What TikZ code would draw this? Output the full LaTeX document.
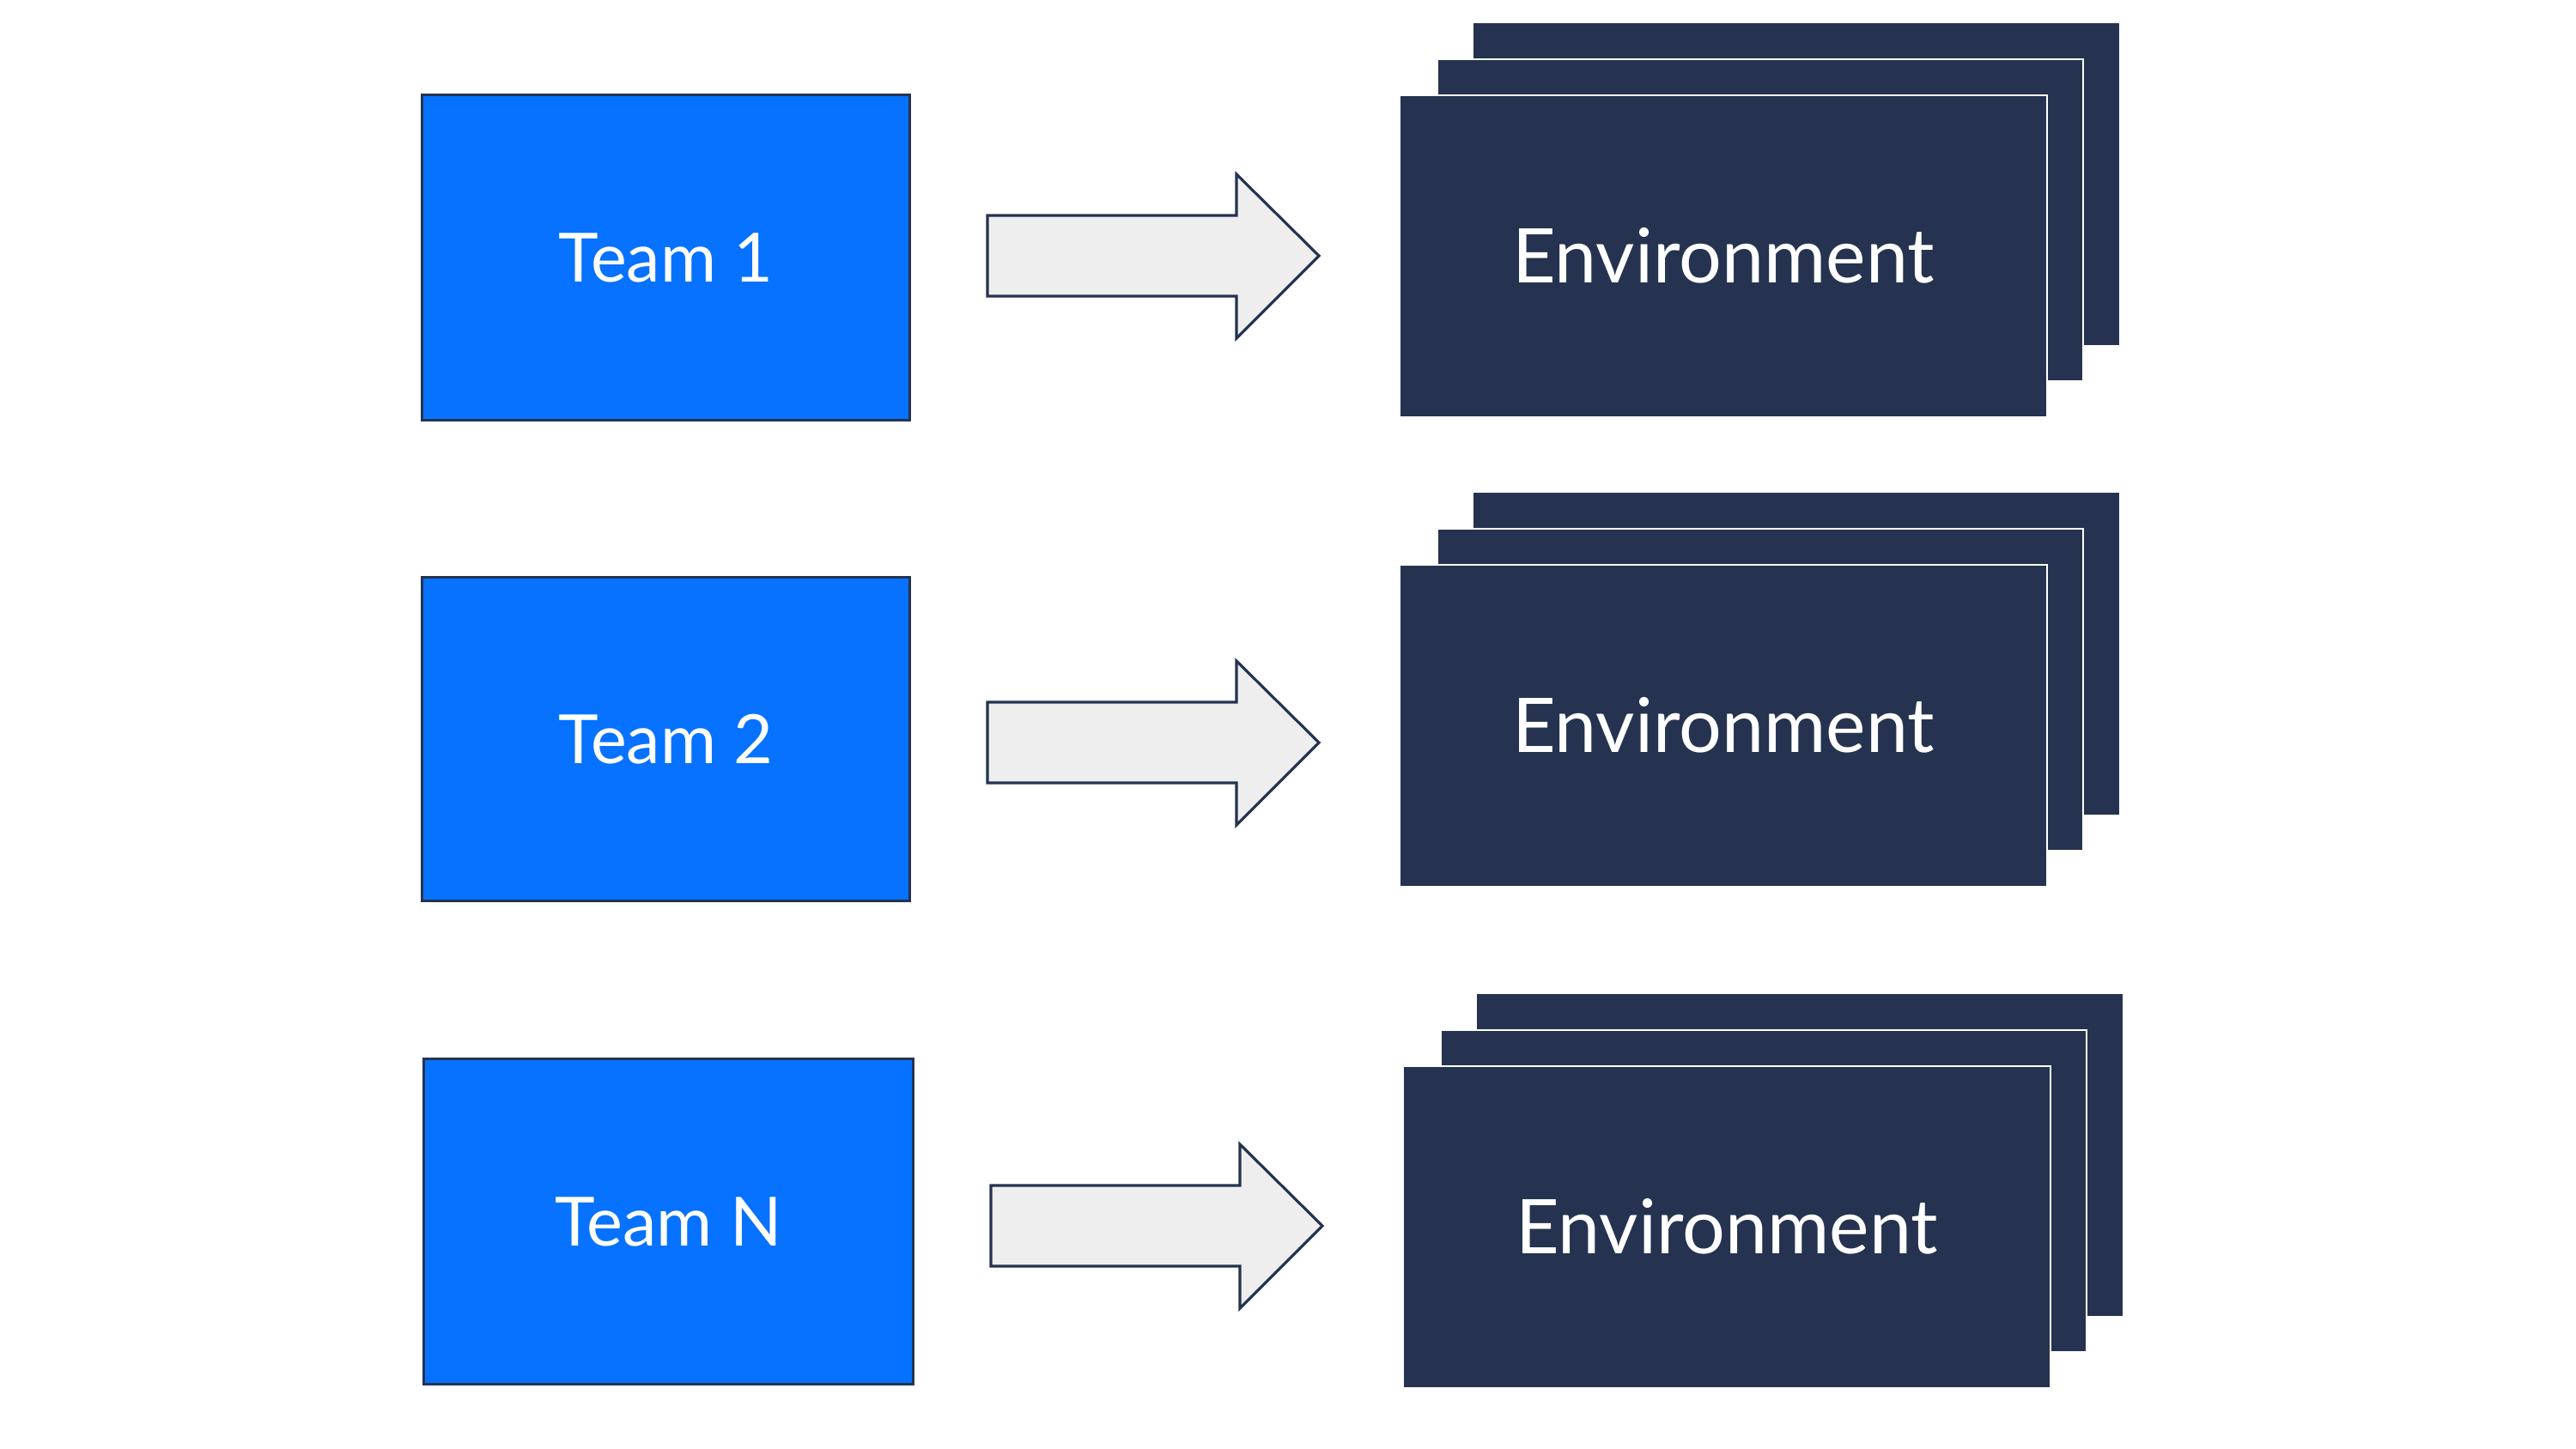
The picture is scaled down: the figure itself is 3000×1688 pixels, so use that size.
\documentclass[tikz,border=0pt]{standalone}
\usepackage{fontspec}
\setmainfont{Lato}
\definecolor{teamblue}{HTML}{0672FF}
\definecolor{navy}{HTML}{253350}
\definecolor{arrowgray}{HTML}{EEEEEE}
\begin{document}
\begin{tikzpicture}[x=0.01cm,y=-0.01cm,
  teambox/.style={draw=navy,line width=0.9pt,fill=teamblue,text=white,inner sep=0pt,font=\fontsize{22.5}{27}\selectfont},
  envback/.style={fill=navy,draw=white,line width=0.8pt},
  envlabel/.style={text=white,font=\fontsize{25}{30}\selectfont},
  blockarrow/.style={draw=navy,line width=0.9pt,fill=arrowgray,line join=miter}]
\useasboundingbox (0,0) rectangle (3000,1688);
% row definitions: team box, arrow, env stacks
\foreach \i/\tx/\tya/\tyb/\txa/\txb/\ay/\ax/\ey/\ex/\lab in {
  1/0/109/488/490/1058/298/1150/0/0/Team 1,
  2/0/671/1048/490/1058/865/1150/547/0/Team 2,
  3/0/1232/1611/492/1062/1428/1154/1131/4/Team N}{
  % team box
  \node[teambox,minimum width={(\txb-\txa)*0.01cm},minimum height={(\tyb-\tya)*0.01cm},anchor=north west]
    (team\i) at (\txa,\tya) {\lab};
  % block arrow
  \coordinate (arr\i) at (\ax,\ay);
  \draw[blockarrow] ([shift={(0,-47)}]arr\i) -- ++(290,0) -- ++(0,-48) -- ([shift={(386,0)}]arr\i)
    -- ([shift={(290,96)}]arr\i) -- ++(0,-49) -- ([shift={(0,47)}]arr\i) -- cycle;
  % environment stack
  \fill[navy] (1716+\ex,27+\ey) rectangle (2468+\ex,402+\ey);
  \filldraw[envback] (1674+\ex,69+\ey) rectangle (2426+\ex,444+\ey);
  \filldraw[envback] (1630+\ex,111+\ey) rectangle (2384+\ex,486+\ey);
  \node[envlabel] (env\i) at (2007+\ex,298+\ey) {Environment};
}
\end{tikzpicture}
\end{document}
